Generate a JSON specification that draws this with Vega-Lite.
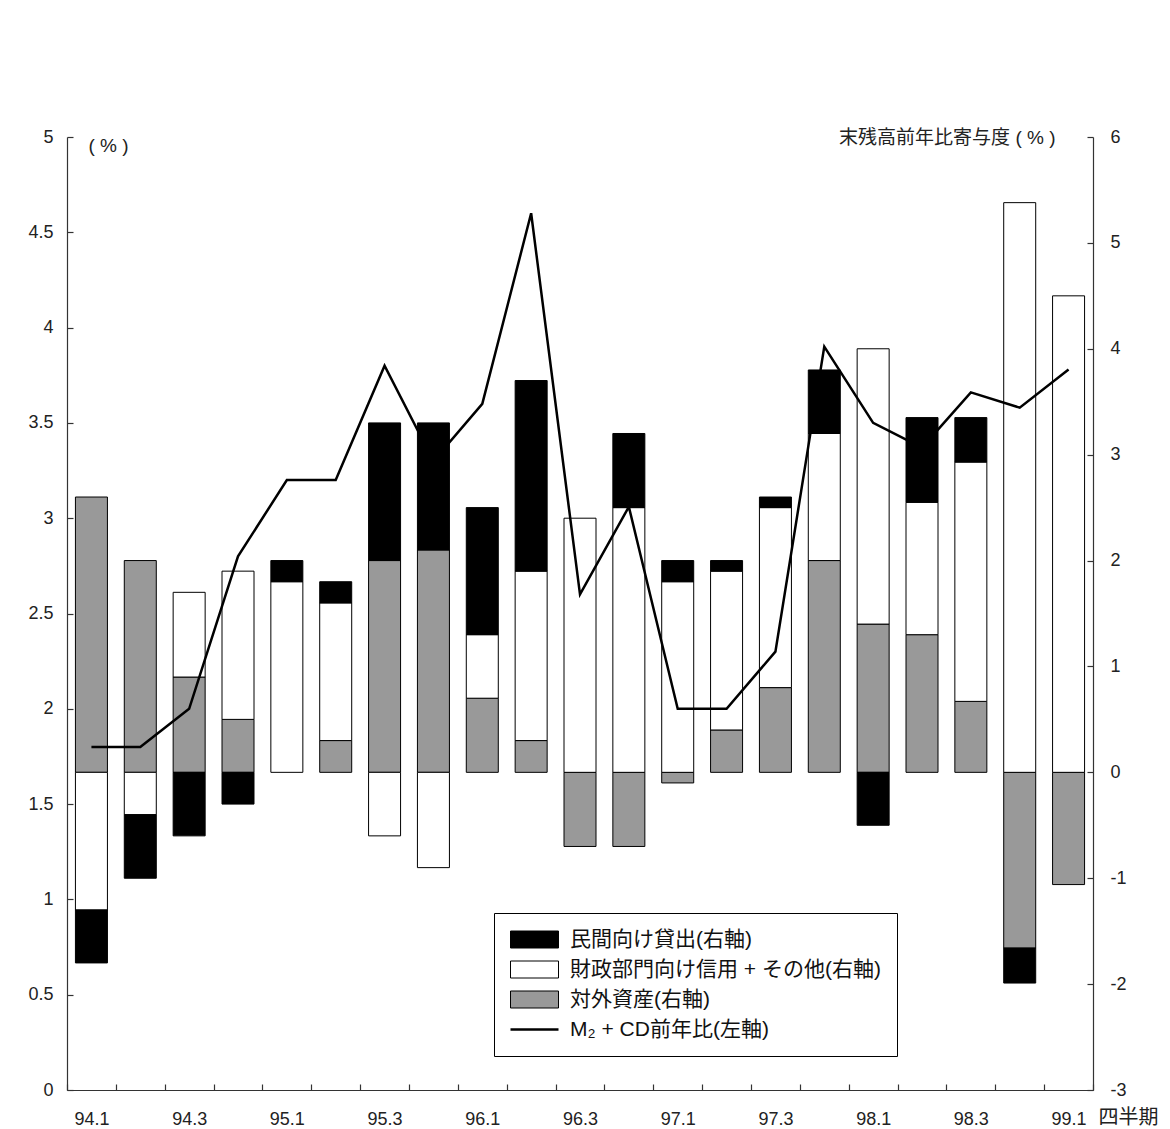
{
  "$schema": "https://vega.github.io/schema/vega-lite/v6.json",
  "width": 1026,
  "height": 953,
  "autosize": "none",
  "padding": {"left": 67, "top": 137, "right": 77, "bottom": 39},
  "background": "#ffffff",
  "config": {
    "view": {"stroke": null},
    "font": "Liberation Sans, Noto Sans CJK JP, sans-serif",
    "axis": {
      "grid": false,
      "labelFont": "Liberation Sans, Noto Sans CJK JP, sans-serif",
      "labelFontSize": 18,
      "labelColor": "#222222",
      "domainColor": "#333333",
      "domainWidth": 1.2,
      "tickColor": "#333333",
      "tickWidth": 1.2,
      "tickSize": -6,
      "titleFont": "Liberation Sans, Noto Sans CJK JP, sans-serif",
      "titleFontWeight": "normal",
      "titleColor": "#222222"
    }
  },
  "datasets": {
    "contrib": [
      {"quarter": "94.1", "item": "対外資産(右軸)", "value": 2.6},
      {"quarter": "94.1", "item": "財政部門向け信用 + その他(右軸)", "value": -1.3},
      {"quarter": "94.1", "item": "民間向け貸出(右軸)", "value": -0.5},
      {"quarter": "94.2", "item": "対外資産(右軸)", "value": 2.0},
      {"quarter": "94.2", "item": "財政部門向け信用 + その他(右軸)", "value": -0.4},
      {"quarter": "94.2", "item": "民間向け貸出(右軸)", "value": -0.6},
      {"quarter": "94.3", "item": "対外資産(右軸)", "value": 0.9},
      {"quarter": "94.3", "item": "財政部門向け信用 + その他(右軸)", "value": 0.8},
      {"quarter": "94.3", "item": "民間向け貸出(右軸)", "value": -0.6},
      {"quarter": "94.4", "item": "対外資産(右軸)", "value": 0.5},
      {"quarter": "94.4", "item": "財政部門向け信用 + その他(右軸)", "value": 1.4},
      {"quarter": "94.4", "item": "民間向け貸出(右軸)", "value": -0.3},
      {"quarter": "95.1", "item": "財政部門向け信用 + その他(右軸)", "value": 1.8},
      {"quarter": "95.1", "item": "民間向け貸出(右軸)", "value": 0.2},
      {"quarter": "95.2", "item": "対外資産(右軸)", "value": 0.3},
      {"quarter": "95.2", "item": "財政部門向け信用 + その他(右軸)", "value": 1.3},
      {"quarter": "95.2", "item": "民間向け貸出(右軸)", "value": 0.2},
      {"quarter": "95.3", "item": "対外資産(右軸)", "value": 2.0},
      {"quarter": "95.3", "item": "財政部門向け信用 + その他(右軸)", "value": -0.6},
      {"quarter": "95.3", "item": "民間向け貸出(右軸)", "value": 1.3},
      {"quarter": "95.4", "item": "対外資産(右軸)", "value": 2.1},
      {"quarter": "95.4", "item": "財政部門向け信用 + その他(右軸)", "value": -0.9},
      {"quarter": "95.4", "item": "民間向け貸出(右軸)", "value": 1.2},
      {"quarter": "96.1", "item": "対外資産(右軸)", "value": 0.7},
      {"quarter": "96.1", "item": "財政部門向け信用 + その他(右軸)", "value": 0.6},
      {"quarter": "96.1", "item": "民間向け貸出(右軸)", "value": 1.2},
      {"quarter": "96.2", "item": "対外資産(右軸)", "value": 0.3},
      {"quarter": "96.2", "item": "財政部門向け信用 + その他(右軸)", "value": 1.6},
      {"quarter": "96.2", "item": "民間向け貸出(右軸)", "value": 1.8},
      {"quarter": "96.3", "item": "対外資産(右軸)", "value": -0.7},
      {"quarter": "96.3", "item": "財政部門向け信用 + その他(右軸)", "value": 2.4},
      {"quarter": "96.4", "item": "対外資産(右軸)", "value": -0.7},
      {"quarter": "96.4", "item": "財政部門向け信用 + その他(右軸)", "value": 2.5},
      {"quarter": "96.4", "item": "民間向け貸出(右軸)", "value": 0.7},
      {"quarter": "97.1", "item": "対外資産(右軸)", "value": -0.1},
      {"quarter": "97.1", "item": "財政部門向け信用 + その他(右軸)", "value": 1.8},
      {"quarter": "97.1", "item": "民間向け貸出(右軸)", "value": 0.2},
      {"quarter": "97.2", "item": "対外資産(右軸)", "value": 0.4},
      {"quarter": "97.2", "item": "財政部門向け信用 + その他(右軸)", "value": 1.5},
      {"quarter": "97.2", "item": "民間向け貸出(右軸)", "value": 0.1},
      {"quarter": "97.3", "item": "対外資産(右軸)", "value": 0.8},
      {"quarter": "97.3", "item": "財政部門向け信用 + その他(右軸)", "value": 1.7},
      {"quarter": "97.3", "item": "民間向け貸出(右軸)", "value": 0.1},
      {"quarter": "97.4", "item": "対外資産(右軸)", "value": 2.0},
      {"quarter": "97.4", "item": "財政部門向け信用 + その他(右軸)", "value": 1.2},
      {"quarter": "97.4", "item": "民間向け貸出(右軸)", "value": 0.6},
      {"quarter": "98.1", "item": "対外資産(右軸)", "value": 1.4},
      {"quarter": "98.1", "item": "財政部門向け信用 + その他(右軸)", "value": 2.6},
      {"quarter": "98.1", "item": "民間向け貸出(右軸)", "value": -0.5},
      {"quarter": "98.2", "item": "対外資産(右軸)", "value": 1.3},
      {"quarter": "98.2", "item": "財政部門向け信用 + その他(右軸)", "value": 1.25},
      {"quarter": "98.2", "item": "民間向け貸出(右軸)", "value": 0.8},
      {"quarter": "98.3", "item": "対外資産(右軸)", "value": 0.67},
      {"quarter": "98.3", "item": "財政部門向け信用 + その他(右軸)", "value": 2.26},
      {"quarter": "98.3", "item": "民間向け貸出(右軸)", "value": 0.42},
      {"quarter": "98.4", "item": "対外資産(右軸)", "value": -1.66},
      {"quarter": "98.4", "item": "財政部門向け信用 + その他(右軸)", "value": 5.38},
      {"quarter": "98.4", "item": "民間向け貸出(右軸)", "value": -0.33},
      {"quarter": "99.1", "item": "対外資産(右軸)", "value": -1.06},
      {"quarter": "99.1", "item": "財政部門向け信用 + その他(右軸)", "value": 4.5}
    ],
    "m2cd": [
      {"quarter": "94.1", "yoy": 1.8},
      {"quarter": "94.2", "yoy": 1.8},
      {"quarter": "94.3", "yoy": 2.0},
      {"quarter": "94.4", "yoy": 2.8},
      {"quarter": "95.1", "yoy": 3.2},
      {"quarter": "95.2", "yoy": 3.2},
      {"quarter": "95.3", "yoy": 3.8},
      {"quarter": "95.4", "yoy": 3.3},
      {"quarter": "96.1", "yoy": 3.6},
      {"quarter": "96.2", "yoy": 4.6},
      {"quarter": "96.3", "yoy": 2.6},
      {"quarter": "96.4", "yoy": 3.06},
      {"quarter": "97.1", "yoy": 2.0},
      {"quarter": "97.2", "yoy": 2.0},
      {"quarter": "97.3", "yoy": 2.3},
      {"quarter": "97.4", "yoy": 3.9},
      {"quarter": "98.1", "yoy": 3.5},
      {"quarter": "98.2", "yoy": 3.37},
      {"quarter": "98.3", "yoy": 3.66},
      {"quarter": "98.4", "yoy": 3.58},
      {"quarter": "99.1", "yoy": 3.78}
    ]
  },
  "encoding": {
    "x": {
      "field": "quarter",
      "type": "ordinal",
      "scale": {
        "type": "band",
        "paddingInner": 0,
        "paddingOuter": 0,
        "domain": ["94.1","94.2","94.3","94.4","95.1","95.2","95.3","95.4","96.1","96.2","96.3","96.4","97.1","97.2","97.3","97.4","98.1","98.2","98.3","98.4","99.1"]
      },
      "axis": {
        "orient": "bottom",
        "labelAngle": 0,
        "tickBand": "extent",
        "labelPadding": 26,
        "labelExpr": "test(/\\.[13]$/, datum.value) ? datum.value : ''",
        "title": "四半期",
        "titleFontSize": 20,
        "titleAnchor": "start",
        "titleAlign": "left",
        "titleBaseline": "middle",
        "titleX": 1031,
        "titleY": 27
      }
    }
  },
  "layer": [
    {
      "data": {"name": "contrib"},
      "transform": [
        {"calculate": "indexof(['対外資産(右軸)', '財政部門向け信用 + その他(右軸)', '民間向け貸出(右軸)'], datum.item)", "as": "stackRank"}
      ],
      "mark": {"type": "bar", "size": 32, "stroke": "#000000", "strokeWidth": 1},
      "encoding": {
        "y": {
          "field": "value",
          "type": "quantitative",
          "stack": "zero",
          "scale": {"domain": [-3, 6], "nice": false, "zero": false},
          "axis": {
            "orient": "right",
            "values": [-3, -2, -1, 0, 1, 2, 3, 4, 5, 6],
            "labelExpr": "'' + datum.value",
            "labelPadding": 23,
            "title": "末残高前年比寄与度 ( % )",
            "titleFontSize": 19,
            "titleAngle": 0,
            "titleAlign": "right",
            "titleBaseline": "middle",
            "titleX": -38,
            "titleY": 0
          }
        },
        "order": {"field": "stackRank", "type": "quantitative", "sort": "ascending"},
        "color": {
          "field": "item",
          "type": "nominal",
          "scale": {
            "domain": ["民間向け貸出(右軸)", "財政部門向け信用 + その他(右軸)", "対外資産(右軸)", "M₂ + CD前年比(左軸)"],
            "range": ["#000000", "#ffffff", "#999999", "#000000"]
          },
          "legend": {
            "orient": "none",
            "legendX": 427,
            "legendY": 776,
            "title": null,
            "padding": 16,
            "rowPadding": 8,
            "strokeColor": "#000000",
            "fillColor": "#ffffff",
            "symbolSize": 400,
            "symbolType": "M-1,-0.85H3.8V0.85H-1Z",
            "symbolStrokeColor": "#000000",
            "symbolStrokeWidth": 1,
            "labelOffset": 39,
            "labelFont": "Liberation Sans, Noto Sans CJK JP, sans-serif",
            "labelFontSize": 21,
            "labelColor": "#111111",
            "labelLimit": 0,
            "encode": {
              "symbols": {
                "update": {
                  "shape": {"signal": "datum.value === 'M₂ + CD前年比(左軸)' ? 'M-1,0H3.8' : 'M-1,-0.85H3.8V0.85H-1Z'"},
                  "fill": {"scale": "color", "field": "value"},
                  "stroke": {"value": "#000000"},
                  "strokeWidth": {"signal": "datum.value === 'M₂ + CD前年比(左軸)' ? 2.5 : 1"},
                  "opacity": {"value": 1}
                }
              }
            }
          }
        }
      }
    },
    {
      "data": {"name": "m2cd"},
      "mark": {"type": "line", "color": "#000000", "strokeWidth": 2.5, "strokeJoin": "miter"},
      "encoding": {
        "y": {
          "field": "yoy",
          "type": "quantitative",
          "scale": {"domain": [0, 5], "nice": false, "zero": false},
          "axis": {
            "orient": "left",
            "values": [0, 0.5, 1, 1.5, 2, 2.5, 3, 3.5, 4, 4.5, 5],
            "format": "~g",
            "labelPadding": 20,
            "title": "( % )",
            "titleFontSize": 19,
            "titleAngle": 0,
            "titleAlign": "left",
            "titleBaseline": "middle",
            "titleX": 21,
            "titleY": 8
          }
        }
      }
    }
  ],
  "resolve": {"scale": {"y": "independent"}, "axis": {"y": "independent"}}
}
